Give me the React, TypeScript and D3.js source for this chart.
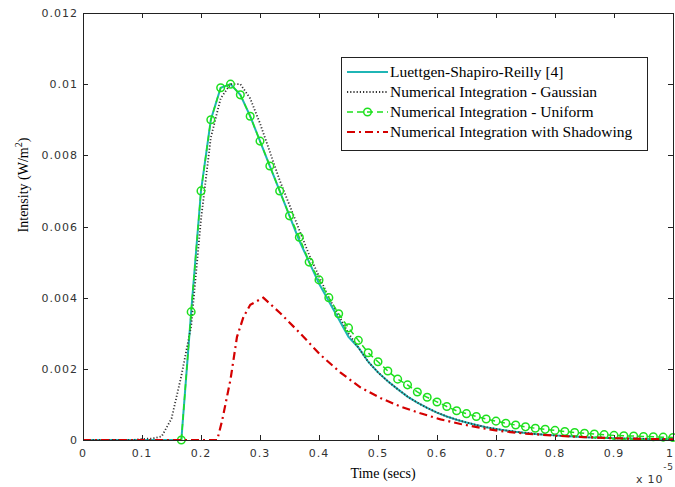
import React, { useRef, useEffect } from "react";
import * as d3 from "d3";

// time axis in units of 1e-5 s, shared grid (k / 60)
const timeGrid = d3.range(0, 61).map((k) => k / 60);

// Luettgen-Shapiro-Reilly [4]
const lsrIntensity = [
  0, 0, 0, 0, 0, 0, 0, 0, 0, 0,
  0, 0.0036, 0.007, 0.009, 0.0099, 0.01, 0.0097, 0.0091, 0.0084, 0.0077,
  0.007, 0.0063, 0.0056, 0.005, 0.0044, 0.0039, 0.0034, 0.0029, 0.0026, 0.0022,
  0.0019, 0.00165, 0.00143, 0.00122, 0.00105, 0.0009, 0.00077, 0.00066, 0.00057, 0.00049,
  0.00042, 0.00036, 0.00031, 0.00027, 0.00023, 0.0002, 0.00017, 0.00015, 0.00013, 0.00011,
  0.0001, 0.00008, 0.00007, 0.00006, 0.00005, 0.00004, 0.00004, 0.00003, 0.00003, 0.00002,
  0.00002,
];

// Numerical Integration - Gaussian
const gaussIntensity = [
  0, 0, 0, 0, 0, 0, 0.00003, 0.00004, 0.0001, 0.0006,
  0.0018, 0.0032, 0.0062, 0.0085, 0.0096, 0.01, 0.01, 0.0096, 0.0089, 0.0081,
  0.0073, 0.0066, 0.0059, 0.0052, 0.0046, 0.004, 0.0035, 0.003, 0.0026, 0.0022,
  0.0019, 0.00165, 0.00143, 0.00122, 0.00105, 0.0009, 0.00077, 0.00066, 0.00057, 0.00049,
  0.00042, 0.00036, 0.00031, 0.00027, 0.00023, 0.0002, 0.00017, 0.00015, 0.00013, 0.00011,
  0.0001, 0.00008, 0.00007, 0.00006, 0.00005, 0.00004, 0.00004, 0.00003, 0.00003, 0.00002,
  0.00002,
];

// Numerical Integration - Uniform (starts at k = 10)
const uniformIntensity = [
  0, 0.0036, 0.007, 0.009, 0.0099, 0.01, 0.0097, 0.0091, 0.0084, 0.0077,
  0.007, 0.0063, 0.0057, 0.005, 0.0045, 0.004, 0.00355, 0.00315, 0.0028, 0.00245,
  0.0022, 0.00194, 0.00171, 0.00155, 0.00135, 0.0012, 0.00107, 0.00094, 0.00082, 0.00074,
  0.00066, 0.00059, 0.00053, 0.00047, 0.00042, 0.00037, 0.00033, 0.0003, 0.00027, 0.00024,
  0.00021, 0.00019, 0.00017, 0.00015, 0.00013, 0.00012, 0.00011, 0.0001, 0.00009, 0.00008,
  0.00007,
];

// Numerical Integration with Shadowing
const shadowTime = [
  0, 0.2275, 0.236, 0.25, 0.261, 0.272, 0.2835, 0.3056, 0.334, 0.368, 0.402, 0.436,
  0.47, 0.504, 0.538, 0.572, 0.606, 0.64, 0.674, 0.703, 0.75, 0.8, 0.85, 0.9, 0.95, 1.0,
];
const shadowIntensity = [
  0, 0, 0.00056, 0.0017, 0.0029, 0.00346, 0.0038, 0.004, 0.00357, 0.003, 0.0024, 0.0019,
  0.00148, 0.00118, 0.00094, 0.00075, 0.00058, 0.00045, 0.00034, 0.00026, 0.00018, 0.00012,
  0.00008, 0.00005, 0.00003, 0.00002,
];

const xTicks = [0, 0.1, 0.2, 0.3, 0.4, 0.5, 0.6, 0.7, 0.8, 0.9, 1];
const yTicks = [0, 0.002, 0.004, 0.006, 0.008, 0.01, 0.012];

const legendLabels = [
  "Luettgen-Shapiro-Reilly [4]",
  "Numerical Integration - Gaussian",
  "Numerical Integration - Uniform",
  "Numerical Integration with Shadowing",
];

const CYAN = "#1fb5b5";
const GREEN = "#1ee01e";
const RED = "#d40000";
const DOT = "#333";

const App = () => {
  const ref = useRef<SVGSVGElement>(null);

  useEffect(() => {
    const width = 675;
    const height = 487;
    const left = 83, right = 673, top = 13, bottom = 440;

    const svg = d3.select(ref.current);
    svg.selectAll("*").remove();
    svg.attr("width", width).attr("height", height);

    svg.append("rect").attr("width", width).attr("height", height).attr("fill", "#fff");

    const x = d3.scaleLinear().domain([0, 1]).range([left, right]);
    const y = d3.scaleLinear().domain([0, 0.012]).range([bottom, top]);

    const tickFont = "'DejaVu Sans', sans-serif";
    const serif = "'Liberation Serif', 'Times New Roman', serif";

    // ticks (inside, all four sides)
    const tk = svg.append("g").attr("stroke", "#222").attr("stroke-width", 1);
    xTicks.forEach((t) => {
      const px = Math.round(x(t)) + 0.5;
      tk.append("line").attr("x1", px).attr("x2", px).attr("y1", bottom).attr("y2", bottom - 5);
      tk.append("line").attr("x1", px).attr("x2", px).attr("y1", top).attr("y2", top + 5);
    });
    yTicks.forEach((t) => {
      const py = Math.round(y(t)) + 0.5;
      tk.append("line").attr("x1", left).attr("x2", left + 5).attr("y1", py).attr("y2", py);
      tk.append("line").attr("x1", right).attr("x2", right - 5).attr("y1", py).attr("y2", py);
    });

    // tick labels
    svg
      .append("g")
      .selectAll("text")
      .data(xTicks)
      .enter()
      .append("text")
      .attr("x", (d) => Math.min(x(d), 670))
      .attr("y", 457)
      .attr("text-anchor", "middle")
      .style("font-family", tickFont)
      .style("font-size", "11px")
      .style("letter-spacing", "1px")
      .attr("fill", "#333")
      .text((d) => String(d));

    svg
      .append("g")
      .selectAll("text")
      .data(yTicks)
      .enter()
      .append("text")
      .attr("x", 78)
      .attr("y", (d) => y(d) + 4)
      .attr("text-anchor", "end")
      .style("font-family", tickFont)
      .style("font-size", "11px")
      .style("letter-spacing", "1px")
      .attr("fill", "#333")
      .text((d) => String(d));

    // x 10^-5 multiplier
    const mult = svg
      .append("text")
      .attr("x", 636)
      .attr("y", 483)
      .style("font-family", tickFont)
      .style("font-size", "11px")
      .style("letter-spacing", "0.8px")
      .attr("fill", "#333");
    mult.append("tspan").text("x 10");
    mult.append("tspan").attr("dy", -13).style("font-size", "9px").text("-5");

    // axis labels
    svg
      .append("text")
      .attr("x", 383)
      .attr("y", 478)
      .attr("text-anchor", "middle")
      .style("font-family", serif)
      .style("font-size", "14px")
      .text("Time (secs)");

    const yl = svg
      .append("text")
      .attr("transform", "translate(28,185) rotate(-90)")
      .attr("text-anchor", "middle")
      .style("font-family", serif)
      .style("font-size", "14px");
    yl.append("tspan").text("Intensity (W/m");
    yl.append("tspan").attr("dy", -6).style("font-size", "10px").text("2");
    yl.append("tspan").attr("dy", 6).text(")");

    const plot = svg.append("g");

    const lineXY = d3
      .line<[number, number]>()
      .x((d) => x(d[0]))
      .y((d) => y(d[1]));

    const lsrPts = timeGrid.map((t, i) => [t, lsrIntensity[i]] as [number, number]);
    const gaussPts = timeGrid.map((t, i) => [t, gaussIntensity[i]] as [number, number]);
    const uniPts = uniformIntensity.map((v, i) => [timeGrid[i + 10], v] as [number, number]);
    const shadowPts = shadowTime.map((t, i) => [t, shadowIntensity[i]] as [number, number]);

    plot
      .append("path")
      .attr("d", lineXY(lsrPts))
      .attr("fill", "none")
      .attr("stroke", CYAN)
      .attr("stroke-width", 2);

    plot
      .append("path")
      .attr("d", lineXY(gaussPts))
      .attr("fill", "none")
      .attr("stroke", DOT)
      .attr("stroke-width", 1.8)
      .attr("stroke-dasharray", "1.2 2");

    plot
      .append("path")
      .attr("d", lineXY(uniPts))
      .attr("fill", "none")
      .attr("stroke", GREEN)
      .attr("stroke-width", 1.5)
      .attr("stroke-dasharray", "6 4");

    plot
      .selectAll("circle.uni")
      .data(uniPts)
      .enter()
      .append("circle")
      .attr("class", "uni")
      .attr("cx", (d) => x(d[0]))
      .attr("cy", (d) => y(d[1]))
      .attr("r", 3.8)
      .attr("fill", "none")
      .attr("stroke", GREEN)
      .attr("stroke-width", 1.5);

    plot
      .append("path")
      .attr("d", lineXY(shadowPts))
      .attr("fill", "none")
      .attr("stroke", RED)
      .attr("stroke-width", 2.2)
      .attr("stroke-dasharray", "8 4 2 4");

    // box
    svg
      .append("rect")
      .attr("x", left + 0.5)
      .attr("y", top + 0.5)
      .attr("width", right - left)
      .attr("height", bottom - top)
      .attr("fill", "none")
      .attr("stroke", "#222")
      .attr("stroke-width", 1);

    // legend
    const lg = svg.append("g");
    lg.append("rect")
      .attr("x", 341.5)
      .attr("y", 57.5)
      .attr("width", 306)
      .attr("height", 93)
      .attr("fill", "#fff")
      .attr("stroke", "#222");

    const rowY = [72, 92, 112, 132];
    const styles = [
      { stroke: CYAN, w: 2, dash: null as string | null, marker: false },
      { stroke: DOT, w: 1.8, dash: "1.2 2", marker: false },
      { stroke: GREEN, w: 1.5, dash: "6 4", marker: true },
      { stroke: RED, w: 2.2, dash: "8 4 2 4", marker: false },
    ];
    legendLabels.forEach((lab, i) => {
      const s = styles[i];
      const ln = lg
        .append("line")
        .attr("x1", 347)
        .attr("x2", 388)
        .attr("y1", rowY[i])
        .attr("y2", rowY[i])
        .attr("stroke", s.stroke)
        .attr("stroke-width", s.w);
      if (s.dash) ln.attr("stroke-dasharray", s.dash);
      if (s.marker) {
        lg.append("circle")
          .attr("cx", 367.5)
          .attr("cy", rowY[i])
          .attr("r", 3.8)
          .attr("fill", "none")
          .attr("stroke", s.stroke)
          .attr("stroke-width", 1.5);
      }
      lg.append("text")
        .attr("x", 390)
        .attr("y", rowY[i] + 5)
        .style("font-family", serif)
        .style("font-size", "15.5px")
        .text(lab);
    });
  }, []);

  return (
    <div style={{ position: "absolute", left: 0, top: 0 }}>
      <svg ref={ref}></svg>
    </div>
  );
};

export default App;
